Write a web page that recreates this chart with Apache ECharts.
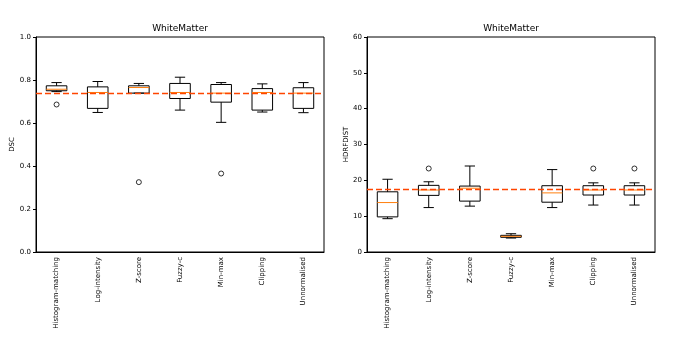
<!DOCTYPE html>
<html lang="en">
<head>
<meta charset="UTF-8">
<title>WhiteMatter</title>
<script src="https://cdn.jsdelivr.net/npm/echarts@6/dist/echarts.min.js"></script>
<style>body{margin:0;background:#fff}</style>
</head>
<body>
<div id="chart" style="width:692px;height:353px;"></div>
<script>
var categories = ['Histogram-matching', 'Log-intensity', 'Z-score', 'Fuzzy-c', 'Min-max', 'Clipping', 'Unnormalised'];

// [low whisker, Q1, median, Q3, high whisker]
var dscBoxes = [
	[0.746, 0.750, 0.757, 0.773, 0.788],
	[0.649, 0.668, 0.742, 0.768, 0.793],
	[0.739, 0.739, 0.765, 0.773, 0.784],
	[0.660, 0.714, 0.742, 0.784, 0.813],
	[0.603, 0.697, 0.739, 0.779, 0.788],
	[0.651, 0.660, 0.742, 0.760, 0.782],
	[0.648, 0.668, 0.739, 0.764, 0.788]
];
var dscOutliers = [[0, 0.686], [2, 0.325], [4, 0.365]];
var dscMean = 0.739;

var hdBoxes = [
	[9.3, 9.8, 13.8, 16.8, 20.3],
	[12.4, 15.8, 17.3, 18.6, 19.6],
	[12.8, 14.2, 17.8, 18.4, 24.0],
	[3.9, 4.1, 4.37, 4.65, 5.1],
	[12.4, 13.9, 16.5, 18.5, 23.0],
	[13.1, 15.9, 17.3, 18.5, 19.3],
	[13.1, 15.9, 17.3, 18.5, 19.3]
];
var hdOutliers = [[1, 23.3], [5, 23.3], [6, 23.3]];
var hdMean = 17.4;

var font = 'DejaVu Sans';

function renderBox(params, api) {
	var i = api.value(0);
	var lo = api.coord([i, api.value(1)]);
	var q1 = api.coord([i, api.value(2)]);
	var md = api.coord([i, api.value(3)]);
	var q3 = api.coord([i, api.value(4)]);
	var hi = api.coord([i, api.value(5)]);
	var bw = api.size([1, 0])[0] * 0.5;
	var x = lo[0];
	var black = {stroke: '#000', lineWidth: 1, fill: null};
	return {
		type: 'group',
		children: [
			{type: 'rect', shape: {x: x - bw / 2, y: q3[1], width: bw, height: q1[1] - q3[1]}, style: black},
			{type: 'line', shape: {x1: x, y1: q1[1], x2: x, y2: lo[1]}, style: black},
			{type: 'line', shape: {x1: x, y1: q3[1], x2: x, y2: hi[1]}, style: black},
			{type: 'line', shape: {x1: x - bw / 4, y1: lo[1], x2: x + bw / 4, y2: lo[1]}, style: black},
			{type: 'line', shape: {x1: x - bw / 4, y1: hi[1], x2: x + bw / 4, y2: hi[1]}, style: black},
			{type: 'line', shape: {x1: x - bw / 2, y1: md[1], x2: x + bw / 2, y2: md[1]}, style: {stroke: '#ff7f0e', lineWidth: 1}}
		]
	};
}

function boxData(boxes) {
	return boxes.map(function (b, i) { return [i].concat(b); });
}

function makeGrid(left) {
	return {left: left, top: 37, width: 288, height: 215, show: true, borderColor: '#000', borderWidth: 1, backgroundColor: 'transparent'};
}

function xAx(idx) {
	return {
		type: 'category', gridIndex: idx, data: categories, boundaryGap: true,
		axisLine: {lineStyle: {color: '#000'}},
		axisTick: {alignWithLabel: true, length: 3, lineStyle: {color: '#000'}},
		axisLabel: {rotate: 90, fontSize: 7, color: '#000', fontFamily: font, interval: 0, margin: 5},
		splitLine: {show: false}
	};
}

function yAx(idx, max, interval, dec, name) {
	return {
		type: 'value', gridIndex: idx, min: 0, max: max, interval: interval,
		name: name, nameLocation: 'middle', nameGap: dec ? 19 : 17,
		nameTextStyle: {fontSize: 7, color: '#000', fontFamily: font},
		axisLine: {show: true, lineStyle: {color: '#000'}},
		axisTick: {show: true, length: 3, lineStyle: {color: '#000'}},
		axisLabel: {fontSize: 7, color: '#000', fontFamily: font, margin: 5,
			formatter: function (v) { return dec ? v.toFixed(1) : String(v); }},
		splitLine: {show: false}
	};
}

function series(idx, boxes, outliers, mean) {
	return [
		{
			type: 'custom', xAxisIndex: idx, yAxisIndex: idx,
			data: boxData(boxes), renderItem: renderBox, silent: true,
			markLine: {
				silent: true, symbol: 'none', label: {show: false},
				lineStyle: {color: '#ff4500', type: [6, 3], width: 1.3},
				data: [{yAxis: mean}]
			}
		},
		{
			type: 'scatter', xAxisIndex: idx, yAxisIndex: idx,
			data: outliers, symbol: 'circle', symbolSize: 5,
			itemStyle: {color: '#fff', borderColor: '#000', borderWidth: 1}
		}
	];
}

var myChart = echarts.init(document.getElementById('chart'));
var option = {
	animation: false,
	title: [
		{text: 'WhiteMatter', left: 180, top: 24, textAlign: 'center', textVerticalAlign: 'top', padding: 0, textStyle: {fontSize: 9, fontWeight: 'normal', color: '#000', fontFamily: font}},
		{text: 'WhiteMatter', left: 511, top: 24, textAlign: 'center', textVerticalAlign: 'top', padding: 0, textStyle: {fontSize: 9, fontWeight: 'normal', color: '#000', fontFamily: font}}
	],
	grid: [makeGrid(36), makeGrid(367)],
	xAxis: [xAx(0), xAx(1)],
	yAxis: [yAx(0, 1, 0.2, true, 'DSC'), yAx(1, 60, 10, false, 'HDRFDIST')],
	series: series(0, dscBoxes, dscOutliers, dscMean).concat(series(1, hdBoxes, hdOutliers, hdMean))
};
myChart.setOption(option);
</script>
</body>
</html>
